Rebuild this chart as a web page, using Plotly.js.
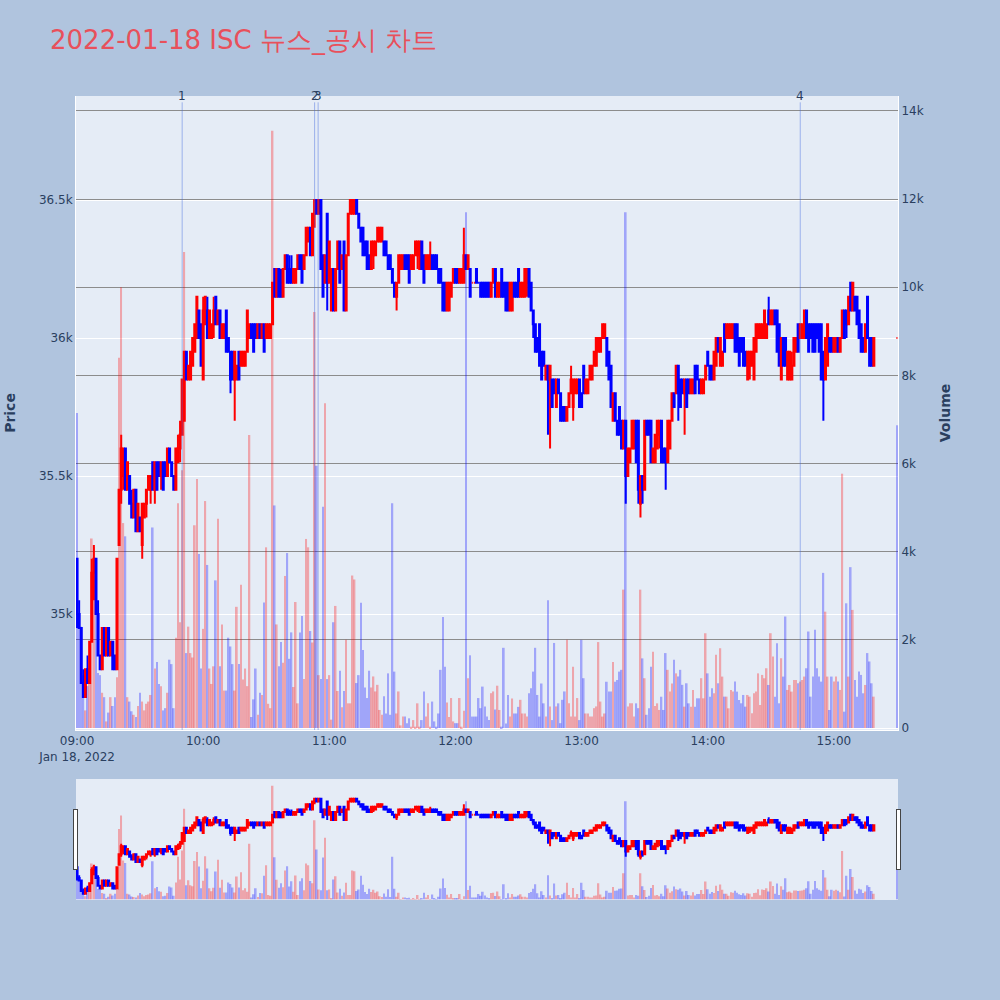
<!DOCTYPE html>
<html>
<head>
<meta charset="utf-8">
<script src="https://cdn.plot.ly/plotly-3.0.1.min.js"></script>
<style>html,body{margin:0;padding:0;background:#B0C4DE;}</style>
</head>
<body>
<div id="chart" style="width:1000px;height:1000px;"></div>
<script>
// ---- data (1-minute bars, 2022-01-18, 09:00 .. 15:19, plus 15:30 closing auction) ----
const tradeDate = '2022-01-18';
const sessionStartMinute = 9 * 60;          // 09:00
const closingAuctionTime = '15:30';

const opens = [
35200,35000,34950,34750,34700,34800,34750,34900,35150,35200,
35000,34850,34800,34950,34850,34950,34850,34900,34850,34800,
35250,35450,35500,35600,35450,35500,35400,35350,35450,35300,
35350,35250,35350,35400,35450,35450,35550,35450,35550,35550,
35500,35550,35550,35500,35600,35550,35500,35450,35550,35600,
35650,35700,35950,35850,35850,35900,35950,36000,36100,36050,
35850,36050,36100,36000,36000,36050,36150,36050,36100,36000,
36000,36100,36000,35950,35950,35850,35850,35950,35900,35900,
35900,35950,36000,36050,36050,36050,36000,36050,36000,36050,
36000,36000,36000,36050,36250,36150,36250,36200,36150,36250,
36300,36250,36250,36200,36200,36250,36300,36300,36250,36300,
36350,36400,36300,36450,36500,36450,36500,36300,36200,36450,
36200,36100,36250,36100,36250,36350,36250,36350,36100,36300,
36450,36450,36450,36500,36450,36400,36400,36350,36350,36300,
36250,36300,36300,36350,36350,36350,36350,36350,36300,36300,
36250,36200,36150,36200,36250,36250,36300,36300,36300,36250,
36250,36300,36300,36250,36350,36300,36250,36250,36250,36300,
36300,36300,36250,36250,36200,36200,36100,36100,36150,36200,
36250,36250,36200,36200,36200,36300,36250,36250,36200,36200,
36250,36200,36200,36200,36200,36200,36200,36150,36200,36250,
36150,36150,36250,36200,36200,36200,36100,36100,36200,36200,
36250,36150,36150,36150,36200,36250,36200,36100,36050,36000,
36050,35950,35950,35850,35900,35850,35850,35850,35750,35850,
35800,35750,35750,35700,35750,35800,35750,35800,35800,35850,
35800,35900,35800,35800,35850,35850,35900,35900,35950,35950,
36000,36000,36000,35950,35900,35700,35800,35700,35750,35700,
35600,35700,35500,35550,35600,35600,35700,35700,35400,35500,
35450,35700,35700,35700,35550,35550,35600,35650,35700,35600,
35600,35550,35600,35700,35800,35800,35900,35850,35850,35800,
35850,35850,35800,35800,35900,35900,35850,35800,35800,35850,
35950,35900,35900,35850,35900,36000,35900,35900,36050,36000,
36000,36000,36000,36050,36050,36000,36000,36000,35950,35850,
35900,35900,35850,35950,36000,36000,36000,36000,36000,36100,
36050,36050,36100,36100,36050,35850,36000,36000,35850,35850,
35850,35900,35950,36050,36000,36000,36000,36100,36050,36050,
36050,36050,36050,36050,36050,35950,35850,35900,36000,36000,
35950,35950,36000,35950,36000,36100,36100,36050,36200,36100,
36150,36150,36100,36050,36000,35950,36150,36000,36000,35900,
36000];

const highs = [
35200,35050,34950,34800,34800,34850,34900,35200,35250,35200,
35050,34850,34950,34950,34950,34950,34900,34900,34850,35200,
35450,35650,35600,35600,35550,35500,35450,35450,35450,35400,
35350,35400,35400,35450,35500,35500,35550,35550,35550,35550,
35550,35550,35550,35600,35600,35550,35500,35600,35650,35700,
35850,35950,35950,35900,35950,36000,36050,36150,36100,36050,
36150,36150,36150,36100,36050,36150,36150,36100,36100,36050,
36050,36100,36000,35950,35950,35950,35900,35950,35950,35950,
35950,36100,36050,36050,36050,36050,36050,36050,36050,36050,
36050,36050,36050,36200,36250,36250,36250,36250,36250,36300,
36300,36300,36300,36250,36250,36300,36300,36300,36300,36400,
36400,36400,36450,36500,36500,36500,36500,36300,36300,36450,
36350,36250,36250,36250,36350,36350,36300,36350,36300,36450,
36500,36500,36500,36500,36450,36400,36400,36350,36350,36300,
36350,36350,36350,36400,36400,36400,36350,36350,36300,36300,
36250,36200,36200,36300,36300,36300,36300,36300,36300,36300,
36300,36350,36350,36350,36350,36300,36300,36300,36350,36300,
36300,36300,36250,36250,36200,36200,36200,36200,36200,36250,
36250,36250,36250,36250,36400,36300,36300,36250,36200,36200,
36250,36200,36200,36200,36200,36200,36200,36200,36250,36250,
36200,36200,36250,36200,36200,36200,36200,36200,36200,36200,
36250,36200,36200,36250,36250,36250,36200,36100,36050,36000,
36050,35950,35950,35900,35900,35900,35850,35850,35850,35850,
35800,35750,35750,35750,35800,35900,35850,35850,35850,35850,
35800,35900,35850,35850,35900,35900,35950,36000,36000,36000,
36050,36050,36000,35950,35900,35800,35800,35700,35750,35700,
35700,35700,35600,35600,35700,35700,35700,35700,35500,35500,
35700,35700,35700,35700,35600,35650,35700,35700,35700,35600,
35600,35700,35700,35800,35800,35900,35900,35850,35850,35850,
35850,35850,35850,35850,35900,35900,35850,35850,35850,35900,
35950,35900,35900,35950,36000,36000,36000,35950,36050,36050,
36050,36050,36050,36050,36050,36000,36000,36000,35950,35950,
35950,35950,36000,36050,36050,36050,36050,36100,36050,36150,
36100,36100,36100,36100,36050,36000,36000,36000,35950,35950,
35950,36000,36000,36050,36050,36050,36100,36100,36050,36050,
36050,36050,36050,36050,36050,35950,36000,36050,36000,36000,
36000,36000,36000,36000,36100,36100,36100,36150,36200,36200,
36150,36150,36100,36050,36000,36050,36150,36000,36000,36000,
36000];

const lows = [
34950,34950,34750,34700,34700,34750,34750,34900,35050,35000,
34850,34800,34800,34850,34850,34850,34850,34800,34800,34800,
35250,35400,35450,35450,35450,35400,35350,35350,35300,35300,
35300,35200,35350,35350,35450,35400,35450,35400,35450,35500,
35450,35450,35500,35500,35550,35500,35450,35450,35550,35550,
35650,35700,35850,35850,35850,35900,35950,36000,36000,35900,
35850,36050,36000,36000,36000,36000,36050,36050,36000,36000,
36000,35950,35950,35800,35850,35700,35850,35850,35900,35900,
35900,35950,36000,36000,35950,36000,36000,36000,36000,35950,
36000,36000,36000,36050,36150,36150,36150,36150,36150,36250,
36200,36200,36200,36200,36200,36250,36250,36200,36250,36300,
36350,36300,36300,36400,36450,36450,36250,36150,36200,36100,
36200,36100,36100,36100,36250,36200,36250,36100,36100,36300,
36450,36450,36450,36450,36400,36350,36300,36300,36250,36250,
36250,36250,36300,36350,36350,36350,36300,36300,36250,36250,
36200,36150,36100,36200,36250,36250,36250,36250,36200,36250,
36250,36300,36250,36250,36250,36200,36250,36250,36250,36250,
36250,36250,36200,36200,36100,36100,36100,36100,36150,36200,
36200,36200,36200,36200,36200,36250,36250,36150,36200,36200,
36200,36200,36150,36150,36150,36150,36150,36150,36200,36150,
36150,36150,36150,36150,36100,36100,36100,36100,36150,36150,
36150,36150,36150,36150,36150,36150,36100,36000,35950,35950,
35900,35850,35900,35850,35650,35600,35750,35800,35750,35800,
35700,35700,35700,35700,35750,35800,35700,35800,35800,35750,
35750,35800,35800,35800,35850,35850,35900,35900,35950,35950,
36000,36000,35900,35850,35750,35700,35700,35650,35650,35600,
35600,35400,35500,35550,35600,35600,35550,35400,35350,35400,
35450,35650,35650,35550,35550,35550,35600,35600,35550,35550,
35450,35550,35600,35700,35750,35800,35700,35750,35800,35650,
35750,35800,35800,35800,35800,35850,35800,35800,35800,35850,
35900,35850,35850,35850,35900,35950,35900,35900,35950,36000,
36000,36000,36000,35950,35950,35900,35950,35900,35900,35850,
35850,35900,35850,35950,36000,36000,36000,36000,36000,36050,
36050,36050,36050,35950,35900,35850,35900,35900,35850,35850,
35850,35900,35950,35950,36000,36000,36000,36000,35950,36000,
35950,35950,36000,35950,35850,35700,35850,35900,35950,35950,
35950,35950,35950,35950,36000,36000,36000,36050,36100,36100,
36100,36050,36000,35950,35950,35950,36000,35900,35900,35900,
36000];

const closes = [
35000,34950,34750,34700,34800,34750,34900,35150,35200,35000,
34850,34800,34950,34850,34950,34850,34900,34800,34800,35200,
35450,35600,35600,35450,35550,35400,35350,35450,35300,35400,
35300,35400,35400,35450,35500,35500,35450,35550,35450,35500,
35550,35450,35500,35600,35550,35500,35450,35600,35600,35650,
35850,35950,35850,35900,35950,36000,36050,36150,36000,35900,
36100,36150,36000,36100,36050,36100,36050,36100,36000,36050,
36050,35950,35950,35850,35850,35950,35900,35850,35950,35950,
35950,36100,36050,36000,35950,36000,36050,36000,36050,35950,
36050,36050,36050,36200,36150,36250,36150,36150,36250,36300,
36200,36200,36200,36250,36250,36300,36250,36200,36300,36400,
36400,36300,36450,36500,36450,36500,36250,36150,36300,36200,
36350,36250,36100,36250,36350,36200,36300,36100,36300,36450,
36500,36500,36500,36450,36400,36350,36300,36300,36250,36250,
36350,36350,36350,36400,36400,36400,36300,36300,36250,36250,
36200,36150,36200,36300,36300,36300,36250,36250,36200,36300,
36300,36350,36350,36350,36250,36200,36300,36300,36300,36250,
36250,36250,36200,36200,36100,36100,36200,36200,36200,36250,
36200,36200,36250,36250,36300,36250,36300,36150,36200,36200,
36200,36200,36150,36150,36150,36150,36150,36200,36250,36150,
36200,36200,36150,36150,36100,36100,36200,36200,36150,36150,
36150,36200,36200,36250,36250,36150,36100,36050,35950,35950,
35900,35850,35900,35900,35850,35900,35750,35800,35850,35800,
35700,35700,35700,35750,35800,35850,35850,35850,35850,35750,
35750,35800,35850,35850,35900,35900,35950,36000,36000,36000,
36050,36050,35900,35850,35750,35800,35700,35650,35650,35600,
35700,35500,35600,35600,35700,35700,35550,35450,35500,35450,
35700,35650,35650,35550,35600,35650,35700,35700,35550,35550,
35550,35700,35700,35800,35750,35900,35800,35750,35800,35850,
35750,35800,35850,35850,35800,35850,35800,35850,35850,35900,
35900,35850,35850,35950,36000,35950,36000,35950,35950,36050,
36050,36050,36050,35950,35950,35900,35950,35900,35900,35950,
35950,35950,36000,36050,36050,36050,36050,36100,36050,36050,
36100,36100,36050,35950,35900,36000,35900,35900,35950,35950,
35900,36000,36000,35950,36050,36050,36100,36000,35950,36000,
35950,35950,36000,35950,35850,35850,36000,36050,35950,35950,
36000,36000,35950,36000,36100,36000,36050,36150,36100,36200,
36100,36050,36000,35950,35950,36050,36000,35900,35900,36000,
36000];

const volumes = [
7150,2400,2300,1200,400,950,1250,4300,4100,2850,
1250,1200,800,700,150,350,700,500,700,1150,
8400,10000,4650,4350,700,600,380,300,250,500,
800,600,400,550,600,750,4550,1350,1500,1000,
950,400,450,800,1550,1450,450,2050,5100,2400,
5850,10800,1700,2300,1700,1600,4600,5650,3950,1350,
2250,5150,3700,1350,1000,1400,3350,4750,1400,2350,
850,850,2050,1850,1450,850,2750,1450,3250,1100,
1350,950,6650,250,650,1350,300,800,750,2850,
4100,550,450,13550,5050,2350,1400,1950,1480,3450,
3970,1570,2170,930,2860,560,2170,2540,1110,4290,
4100,2200,1940,9440,5950,1200,1110,5020,7370,1110,
1200,190,2400,2770,840,1300,470,840,2000,560,
560,3460,3370,1020,1200,2840,1770,920,680,1300,
920,1170,830,980,410,300,720,330,1240,300,
5100,1280,330,830,60,260,260,110,220,30,
180,30,560,30,180,830,260,560,30,600,
150,30,330,1320,2520,1390,580,250,680,150,
110,110,680,30,390,11700,1130,1650,260,260,
260,680,450,940,490,260,180,790,830,420,
960,410,30,1820,100,750,260,670,330,330,
480,640,330,330,260,790,900,1280,1820,750,
260,1010,560,260,2900,490,180,1930,490,560,
110,640,830,2000,560,260,1390,260,680,180,
2000,1130,330,330,260,260,450,490,1950,600,
260,330,1050,830,830,1500,1050,1090,1280,1320,
3140,11700,490,560,560,260,560,450,3140,1580,
1130,300,450,1390,1730,500,560,410,710,410,
1700,1320,830,1010,1550,1240,1170,1320,980,485,
1015,560,485,864,485,674,674,1130,674,2150,
1240,712,902,788,1660,1015,1810,1167,712,712,
447,864,826,1053,826,636,561,750,485,750,
712,333,788,826,1240,523,1205,1129,1356,977,
2151,1620,712,1924,561,1583,1167,2530,864,977,
826,1091,1091,1015,1053,1090,1167,1356,2190,712,
1167,2227,1356,1167,1053,3520,2640,1167,409,1167,
1053,1167,1053,864,5770,371,2830,1167,3650,2680,
1091,712,1280,1205,788,977,1700,1510,1015,712,
6870];

// news / disclosure markers
const eventTimes = ['09:50', '10:53', '10:54:40', '14:44'];
const eventLabels = ['1', '2', '3', '4'];

// ---- build timestamps ----
function pad(n){ return String(n).padStart(2, '0'); }
const times = opens.map((_, i) => {
  if (i === opens.length - 1) return tradeDate + ' ' + closingAuctionTime;
  const t = sessionStartMinute + i;
  return tradeDate + ' ' + pad(Math.floor(t / 60)) + ':' + pad(t % 60);
});
const volColors = closes.map((c, i) => c > opens[i] ? 'red' : 'blue');

const xRange = [tradeDate + ' 08:59:30', tradeDate + ' 15:30:30'];

const traces = [
  {
    type: 'candlestick', x: times, open: opens, high: highs, low: lows, close: closes,
    xaxis: 'x', yaxis: 'y', name: 'Price',
    increasing: {line: {color: 'red', width: 2}, fillcolor: 'red'},
    decreasing: {line: {color: 'blue', width: 2}, fillcolor: 'blue'},
    showlegend: false
  },
  {
    type: 'bar', x: times, y: volumes, xaxis: 'x', yaxis: 'y2', name: 'Volume',
    marker: {color: volColors, opacity: 0.3, line: {width: 0}},
    showlegend: false
  }
];

const shapes = eventTimes.map(t => ({
  type: 'line', xref: 'x', yref: 'paper',
  x0: tradeDate + ' ' + t, x1: tradeDate + ' ' + t, y0: 0, y1: 0.99,
  line: {color: 'rgba(65,105,225,0.45)', width: 1}
}));
const annotations = eventTimes.map((t, k) => ({
  xref: 'x', yref: 'paper', x: tradeDate + ' ' + t, y: 1.0,
  text: eventLabels[k], showarrow: false, yanchor: 'middle',
  font: {size: 12, color: '#2a3f5f'}
}));

const FONT = 'Verdana, "DejaVu Sans", sans-serif';

const layout = {
  width: 1000, height: 1000, autosize: false,
  paper_bgcolor: '#B0C4DE',
  plot_bgcolor: '#E5ECF6',
  font: {family: FONT, size: 12, color: '#2a3f5f'},
  title: {
    text: '2022-01-18 ISC 뉴스_공시 차트',
    font: {family: FONT, size: 26, color: '#E8505B'},
    x: 0.05, xanchor: 'left', xref: 'container',
    y: 0.96, yanchor: 'middle', yref: 'container'
  },
  margin: {l: 76, r: 102, t: 96, b: 100},
  showlegend: false,
  xaxis: {
    type: 'date', range: xRange, showgrid: false, zeroline: false,
    linecolor: 'white', ticks: '',
    rangeslider: {visible: true, range: xRange, bgcolor: '#E5ECF6', thickness: 0.15, borderwidth: 0}
  },
  yaxis: {
    title: {text: '<b>Price</b>', font: {size: 14}, standoff: 20},
    range: [34580, 36877], gridcolor: 'white', zerolinecolor: 'white', linecolor: 'white', ticks: ''
  },
  yaxis2: {
    title: {text: '<b>Volume</b>', font: {size: 14}, standoff: 17},
    overlaying: 'y', side: 'right', range: [-45, 14340],
    showgrid: true, gridcolor: '#8c8c8c', gridwidth: 1,
    zeroline: true, zerolinecolor: 'white', linecolor: 'white', ticks: ''
  },
  shapes: shapes,
  annotations: annotations
};

Plotly.newPlot('chart', traces, layout, {displayModeBar: false});
</script>
</body>
</html>
